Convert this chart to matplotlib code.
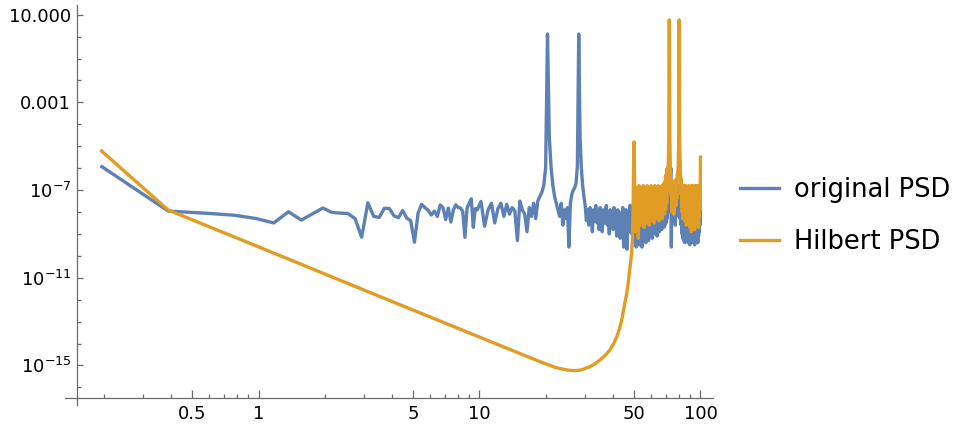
import matplotlib
matplotlib.use('Agg')
import matplotlib.pyplot as plt
import numpy as np
from matplotlib.ticker import FixedLocator, NullFormatter

# frequency grid of the spectra (Hz)
df = 100.0 / 512

# original PSD, log10 values
# low part: every bin, k = 1..50
orig_low = [-5.93, -7.96, -8.06, -8.15, -8.30, -8.50, -7.99, -8.37, -8.08, -7.82,
            -8.02, -8.05, -8.07, -8.30, -9.15, -7.58, -8.20, -8.25, -7.83, -7.84,
            -8.17, -8.26, -7.93, -8.28, -8.40, -9.38, -8.05, -7.65, -7.80, -7.92,
            -8.14, -7.96, -8.20, -7.68, -7.80, -8.35, -7.82, -8.46, -7.90, -7.67,
            -7.80, -7.82, -7.97, -9.16, -7.82, -7.60, -7.40, -8.70, -7.85, -7.90]
# high part: every second bin, k = 52, 54, ..., 512
orig_high = [-7.52, -8.65, -7.90, -7.60, -8.50, -7.85, -7.60, -8.20, -7.65, -8.10,
             -7.80, -7.95, -9.30, -7.50, -7.90, -8.10, -8.90, -7.80, -8.20, -7.60,
             -8.30, -7.50, -7.30, -7.10, -6.80, -6.00, 0.12, -4.60, -6.00, -6.80,
             -7.30, -7.60, -7.90, -8.20, -7.60, -8.60, -7.90, -8.30, -7.80, -9.60,
             -7.60, -7.20, -7.00, -6.90, -6.70, -5.90, 0.12, -4.60, -6.00, -6.80,
             -7.30, -7.70, -8.40, -7.90, -8.60, -7.80, -8.20, -8.90, -7.90, -8.40,
             -7.70, -8.50, -8.00, -8.80, -7.80, -8.30, -8.90, -7.90, -8.50, -8.10,
             -7.70, -8.60, -8.00, -9.00, -7.90, -8.40, -8.10, -8.80, -7.80, -8.60,
             -8.20, -9.10, -7.90, -8.50, -8.00, -9.20, -8.10, -8.70, -7.80, -9.60,
             -8.20, -8.80, -7.90, -9.70, -8.30, -8.00, -8.90, -7.70, -8.60, -9.00,
             -7.80, -8.40, -7.60, -9.40, -7.80, -9.60, -8.00, -9.30, -7.70, -9.50,
             -7.90, -9.20, -7.80, -9.60, -8.10, -9.30, -7.70, -9.10, -8.00, -9.40,
             -7.80, -9.00, -7.90, -9.30, -8.10, -9.10, -7.70, -8.90, -8.00, -9.20,
             -7.80, -8.90, -7.90, -9.00, -8.00, -8.80, -7.70, -9.10, -7.90, -8.80,
             -8.00, -8.90, -7.80, -8.70, -7.90, -8.80, -8.10, -8.60, -7.80, -8.70,
             -7.90, -8.60, -7.60, -8.50, -7.40, -8.30, -7.00, -8.00, -6.50, -7.20,
             -7.50, -6.60, -6.00, -9.60, -7.00, -8.00, -7.40, -8.40, -7.60, -8.20,
             -7.80, -8.60, -7.50, -8.20, -7.20, -7.60, -6.90, -7.30, -6.80, -7.40,
             -7.20, -8.30, -7.50, -8.60, -7.80, -9.00, -7.90, -9.20, -8.00, -9.30,
             -7.80, -9.40, -8.00, -9.10, -7.90, -9.30, -8.10, -9.00, -7.80, -9.40,
             -8.00, -9.20, -7.90, -9.50, -8.10, -9.00, -7.80, -9.30, -8.00, -9.10,
             -7.90, -9.40, -8.00, -9.20, -7.80, -9.50, -8.10, -9.00, -7.90, -9.30,
             -8.00, -9.20, -7.80, -9.40, -8.10, -9.10, -7.90, -8.90, -8.00, -8.60,
             -7.80]

# Hilbert PSD: smooth part (read at chosen frequencies) and noisy tail
hilb_smooth_f = [0.195, 0.39, 1.0, 3.0, 10.0, 15.0, 18.8, 22.0, 25.0, 27.0, 29.0,
                 31.6, 33.3, 35.1, 37.0, 38.9, 40.5, 41.8, 43.0, 44.0, 45.5,
                 46.4, 47.1, 48.0, 48.8, 49.22]
hilb_smooth = [-5.22, -7.91, -9.59, -11.56, -13.71, -14.43, -14.83, -15.09, -15.21,
               -15.24, -15.20, -15.06, -14.93, -14.75, -14.55, -14.30, -14.00,
               -13.69, -13.33, -12.93, -12.17, -11.70, -11.25, -10.50, -9.90, -9.20]
# tail: every second bin, k = 254, 256, ..., 512
hilb_tail = [-7.6, -4.8, -7.0, -8.9, -6.9, -8.4, -7.0, -9.2, -6.8, -8.2,
             -6.9, -8.6, -7.0, -8.3, -6.8, -8.7, -7.0, -8.1, -6.9, -8.5,
             -6.8, -8.2, -7.0, -8.6, -6.9, -8.0, -6.8, -8.4, -7.0, -8.2,
             -6.9, -8.5, -6.8, -8.1, -7.0, -8.3, -6.9, -8.0, -6.8, -8.4,
             -6.9, -8.2, -7.0, -8.1, -6.8, -8.3, -6.9, -8.0, -6.7, -8.1,
             -6.6, -7.9, -6.3, -7.6, -6.0, -7.0, -5.9, -4.8, 0.76, -4.6,
             -5.8, -7.2, -6.6, -8.0, -6.8, -7.8, -6.7, -8.1, -6.6, -7.7,
             -6.6, -7.7, -6.5, -7.4, -6.3, -6.2, -5.9, -4.8, 0.76, -4.6,
             -5.6, -6.4, -7.2, -6.5, -8.0, -6.8, -8.3, -6.9, -8.1, -6.8,
             -8.4, -6.9, -8.2, -6.8, -8.6, -7.0, -8.3, -6.9, -8.5, -6.8,
             -8.2, -6.9, -8.7, -7.0, -8.4, -6.8, -8.9, -6.9, -8.3, -6.8,
             -8.6, -6.9, -8.2, -7.0, -8.8, -6.8, -8.4, -6.9, -8.6, -6.8,
             -8.3, -6.9, -8.5, -6.8, -8.7, -6.9, -8.2, -6.8, -7.9, -5.5]

orig_f = np.concatenate([df * np.arange(1, len(orig_low) + 1),
                         df * (52 + 2 * np.arange(len(orig_high)))])
orig_psd = 10.0 ** np.array(orig_low + orig_high)
hilb_f = np.concatenate([hilb_smooth_f, df * (254 + 2 * np.arange(len(hilb_tail)))])
hilb_psd = 10.0 ** np.array(hilb_smooth + hilb_tail)

blue = '#5E81B5'
orange = '#E19C24'
axis_gray = '#6a6a6a'

fig = plt.figure(figsize=(9.6, 4.3), dpi=100)
ax = fig.add_axes([0.0799, 0.0744, 0.6625, 0.914])
ax.plot(orig_f, orig_psd, color=blue, lw=2.4, label='original PSD')
ax.plot(hilb_f, hilb_psd, color=orange, lw=2.4, label='Hilbert PSD')

ax.set_xscale('log')
ax.set_yscale('log')
ax.set_xlim(0.1504, 113.6)
ax.set_ylim(10 ** -16.486, 10 ** 1.443)

# x ticks
xmaj = [0.5, 1, 5, 10, 50, 100]
xmaj_labels = ['0.5', '1', '5', '10', '50', '100']
xmin = [0.2, 0.3, 0.4, 0.6, 0.7, 0.8, 0.9, 2, 3, 4, 6, 7, 8, 9,
        20, 30, 40, 60, 70, 80, 90]
ax.xaxis.set_major_locator(FixedLocator(xmaj))
ax.xaxis.set_minor_locator(FixedLocator(xmin))
ax.set_xticklabels(xmaj_labels)
ax.xaxis.set_minor_formatter(NullFormatter())

# y ticks
ymaj = [10.0, 1e-3, 1e-7, 1e-11, 1e-15]
ymaj_labels = ['10.000', '0.001', r'$10^{-7}$', r'$10^{-11}$', r'$10^{-15}$']
ymin = [10.0 ** e for e in range(1, -17, -1) if e not in (1, -3, -7, -11, -15)]
ax.yaxis.set_major_locator(FixedLocator(ymaj))
ax.yaxis.set_minor_locator(FixedLocator(ymin))
ax.set_yticklabels(ymaj_labels)
ax.yaxis.set_minor_formatter(NullFormatter())

ax.tick_params(axis='both', which='both', direction='in', color=axis_gray,
               labelsize=13, labelcolor='black', width=0.9)
ax.tick_params(axis='x', which='major', length=5.5, pad=5)
ax.tick_params(axis='x', which='minor', length=3)
ax.tick_params(axis='y', which='major', length=4, pad=4)
ax.tick_params(axis='y', which='minor', length=3)

for side in ('top', 'right'):
    ax.spines[side].set_visible(False)
for side in ('left', 'bottom'):
    ax.spines[side].set_color(axis_gray)
    ax.spines[side].set_linewidth(0.9)

# axes cross a little past the origin, Mathematica style
ax.plot([0, 0], [0, -0.018], transform=ax.transAxes, color=axis_gray,
        lw=0.9, clip_on=False)
ax.plot([0, -0.019], [0, 0], transform=ax.transAxes, color=axis_gray,
        lw=0.9, clip_on=False)

fig.legend(loc='center left', bbox_to_anchor=(0.771, 0.497), frameon=False,
           fontsize=18.5, handlelength=1.5, handletextpad=0.58,
           labelspacing=1.0, borderpad=0, borderaxespad=0)

fig.savefig('out.png', dpi=100)
